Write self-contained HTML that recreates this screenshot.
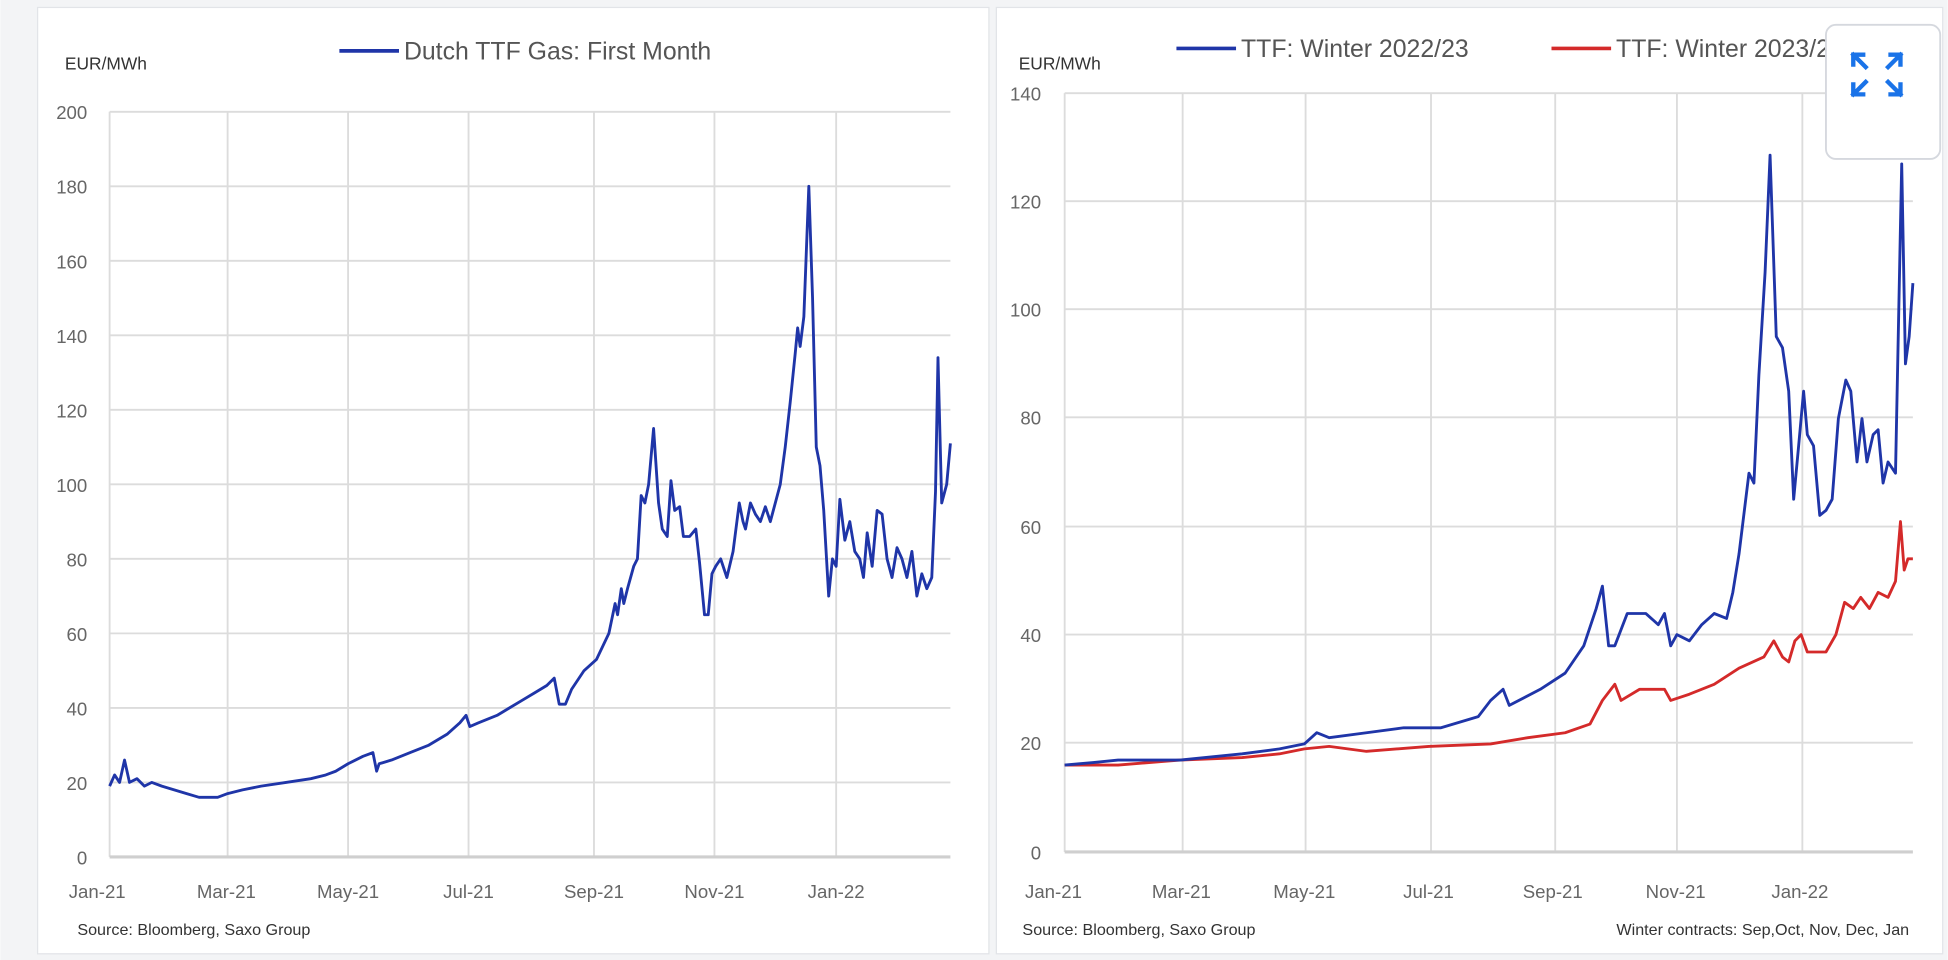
<!DOCTYPE html>
<html><head><meta charset="utf-8"><style>
html,body{margin:0;padding:0;background:#fff;}
svg{display:block;font-family:"Liberation Sans",sans-serif;}
</style></head><body>
<svg width="1948" height="960" viewBox="0 0 1568 773" xmlns="http://www.w3.org/2000/svg">
<rect x="0" y="0" width="1568" height="773" fill="#f3f4f6"/>
<rect x="30" y="6" width="766" height="762" fill="#fff" stroke="#e2e4e8"/>
<rect x="802" y="6" width="762" height="762" fill="#fff" stroke="#e2e4e8"/>

<!-- LEFT CHART -->
<g stroke="#dcdcdc" stroke-width="1.5">
<line x1="88" y1="90" x2="765" y2="90"/><line x1="88" y1="150" x2="765" y2="150"/>
<line x1="88" y1="210" x2="765" y2="210"/><line x1="88" y1="270" x2="765" y2="270"/>
<line x1="88" y1="330" x2="765" y2="330"/><line x1="88" y1="390" x2="765" y2="390"/>
<line x1="88" y1="450" x2="765" y2="450"/><line x1="88" y1="510" x2="765" y2="510"/>
<line x1="88" y1="570" x2="765" y2="570"/><line x1="88" y1="630" x2="765" y2="630"/>
<line x1="88" y1="90" x2="88" y2="690"/><line x1="183" y1="90" x2="183" y2="690"/>
<line x1="280" y1="90" x2="280" y2="690"/><line x1="377" y1="90" x2="377" y2="690"/>
<line x1="478" y1="90" x2="478" y2="690"/><line x1="575" y1="90" x2="575" y2="690"/>
<line x1="673" y1="90" x2="673" y2="690"/>
</g>
<line x1="88" y1="690" x2="765" y2="690" stroke="#cfcfcf" stroke-width="2.5"/>
<g fill="#666" font-size="15" text-anchor="end">
<text x="70" y="96">200</text><text x="70" y="156">180</text><text x="70" y="216">160</text>
<text x="70" y="276">140</text><text x="70" y="336">120</text><text x="70" y="396">100</text>
<text x="70" y="456">80</text><text x="70" y="516">60</text><text x="70" y="576">40</text>
<text x="70" y="636">20</text><text x="70" y="696">0</text>
</g>
<g fill="#666" font-size="15" text-anchor="middle">
<text x="78" y="723">Jan-21</text><text x="182" y="723">Mar-21</text><text x="280" y="723">May-21</text>
<text x="377" y="723">Jul-21</text><text x="478" y="723">Sep-21</text><text x="575" y="723">Nov-21</text>
<text x="673" y="723">Jan-22</text>
</g>
<text x="52" y="56" font-size="14" fill="#333">EUR/MWh</text>
<line x1="273" y1="41" x2="321" y2="41" stroke="#1f35a8" stroke-width="3"/>
<text x="325" y="48" font-size="20" fill="#555">Dutch TTF Gas: First Month</text>
<text x="62" y="753" font-size="13" fill="#333">Source: Bloomberg, Saxo Group</text>
<polyline fill="none" stroke="#1f35a8" stroke-width="2.3" stroke-linejoin="round" points="
88,633 92,624 96,630 100,612 104,630 110,627 116,633 122,630 130,633 140,636 150,639 160,642 175,642 183,639 195,636 210,633 230,630 250,627 262,624 270,621 280,615 292,609 300,606 303,621 305,615 315,612 330,606 345,600 360,591 370,582 375,576 378,585 385,582 400,576 410,570 420,564 430,558 440,552 446,546 450,567 455,567 460,555 470,540 480,531 490,510 495,486 497,495 500,474 502,486 505,474 510,456 513,450 516,399 519,405 522,390 526,345 530,405 533,426 537,432 540,387 543,411 547,408 550,432 555,432 560,426 563,453 567,495 570,495 573,462 576,456 580,450 585,465 590,444 595,405 598,420 600,426 604,405 608,414 612,420 616,408 620,420 624,405 628,390 632,360 636,324 640,285 642,264 644,279 647,255 651,150 654,240 657,360 660,375 663,411 667,480 670,450 673,456 676,402 680,435 684,420 688,444 692,450 695,465 698,429 702,456 706,411 710,414 714,450 718,465 722,441 726,450 730,465 734,444 738,480 742,462 746,474 750,465 753,396 755,288 758,405 762,390 765,357"/>

<!-- RIGHT CHART -->
<g stroke="#dcdcdc" stroke-width="1.5">
<line x1="857" y1="75" x2="1540" y2="75"/><line x1="857" y1="162" x2="1540" y2="162"/>
<line x1="857" y1="249" x2="1540" y2="249"/><line x1="857" y1="336" x2="1540" y2="336"/>
<line x1="857" y1="424" x2="1540" y2="424"/><line x1="857" y1="511" x2="1540" y2="511"/>
<line x1="857" y1="598" x2="1540" y2="598"/>
<line x1="857" y1="75" x2="857" y2="686"/><line x1="952" y1="75" x2="952" y2="686"/>
<line x1="1051" y1="75" x2="1051" y2="686"/><line x1="1152" y1="75" x2="1152" y2="686"/>
<line x1="1252" y1="75" x2="1252" y2="686"/><line x1="1350" y1="75" x2="1350" y2="686"/>
<line x1="1451" y1="75" x2="1451" y2="686"/>
</g>
<line x1="857" y1="686" x2="1540" y2="686" stroke="#cfcfcf" stroke-width="2.5"/>
<g fill="#666" font-size="15" text-anchor="end">
<text x="838" y="81">140</text><text x="838" y="168">120</text><text x="838" y="255">100</text>
<text x="838" y="342">80</text><text x="838" y="430">60</text><text x="838" y="517">40</text>
<text x="838" y="604">20</text><text x="838" y="692">0</text>
</g>
<g fill="#666" font-size="15" text-anchor="middle">
<text x="848" y="723">Jan-21</text><text x="951" y="723">Mar-21</text><text x="1050" y="723">May-21</text>
<text x="1150" y="723">Jul-21</text><text x="1250" y="723">Sep-21</text><text x="1349" y="723">Nov-21</text>
<text x="1449" y="723">Jan-22</text>
</g>
<text x="820" y="56" font-size="14" fill="#333">EUR/MWh</text>
<line x1="947" y1="39" x2="995" y2="39" stroke="#1f35a8" stroke-width="3"/>
<text x="999" y="46" font-size="20" fill="#555">TTF: Winter 2022/23</text>
<line x1="1249" y1="39" x2="1297" y2="39" stroke="#d42a2a" stroke-width="3"/>
<text x="1301" y="46" font-size="20" fill="#555">TTF: Winter 2023/24</text>
<text x="823" y="753" font-size="13" fill="#333">Source: Bloomberg, Saxo Group</text>
<text x="1537" y="753" font-size="13" fill="#333" text-anchor="end">Winter contracts: Sep,Oct, Nov, Dec, Jan</text>
<polyline fill="none" stroke="#d42a2a" stroke-width="2.3" stroke-linejoin="round" points="
857,616 900,616 950,612 1000,610 1030,607 1050,603 1070,601 1100,605 1150,601 1200,599 1230,594 1260,590 1280,583 1290,564 1300,551 1305,564 1320,555 1340,555 1345,564 1360,559 1380,551 1400,538 1420,529 1428,516 1435,529 1440,533 1445,516 1450,511 1455,525 1470,525 1478,511 1485,485 1492,490 1498,481 1505,490 1512,477 1520,481 1526,468 1530,420 1533,459 1536,450 1540,450"/>
<polyline fill="none" stroke="#1f35a8" stroke-width="2.3" stroke-linejoin="round" points="
857,616 880,614 900,612 950,612 1000,607 1030,603 1050,599 1060,590 1070,594 1100,590 1130,586 1160,586 1190,577 1200,564 1210,555 1215,568 1240,555 1260,542 1275,520 1285,490 1290,472 1295,520 1300,520 1310,494 1325,494 1335,503 1340,494 1345,520 1350,511 1360,516 1370,503 1380,494 1390,498 1395,477 1400,446 1408,381 1412,389 1416,302 1421,219 1425,125 1430,271 1435,280 1440,315 1444,402 1448,359 1452,315 1455,350 1460,359 1465,415 1470,411 1475,402 1480,337 1486,306 1490,315 1495,372 1499,337 1503,372 1508,350 1512,346 1516,389 1520,372 1526,381 1531,132 1534,293 1537,271 1540,228"/>

<!-- expand button -->
<rect x="1470" y="20" width="92" height="108" rx="8" fill="#fff" stroke="#d5d8de" stroke-width="1.5"/>
<g stroke="#1a73e8" stroke-width="3.5" fill="none" stroke-linecap="square">
<path d="M1492,44 L1500,44 M1492,44 L1492,52 M1492,44 L1502,54"/>
<path d="M1530,44 L1522,44 M1530,44 L1530,52 M1530,44 L1520,54"/>
<path d="M1492,76 L1500,76 M1492,76 L1492,68 M1492,76 L1502,66"/>
<path d="M1530,76 L1522,76 M1530,76 L1530,68 M1530,76 L1520,66"/>
</g>
</svg>
</body></html>
